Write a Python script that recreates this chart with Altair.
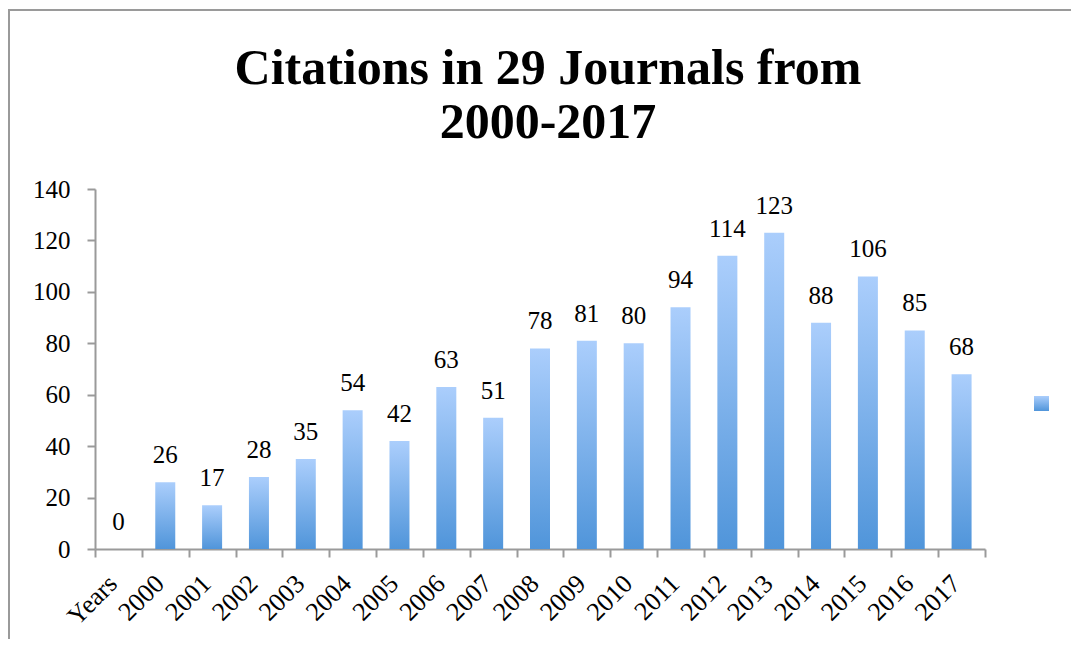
import altair as alt
import pandas as pd

categories = ["Years", "2000", "2001", "2002", "2003", "2004", "2005", "2006", "2007",
              "2008", "2009", "2010", "2011", "2012", "2013", "2014", "2015", "2016", "2017"]
values = [0, 26, 17, 28, 35, 54, 42, 63, 51, 78, 81, 80, 94, 114, 123, 88, 106, 85, 68]
y_ticks = [0, 20, 40, 60, 80, 100, 120, 140]
series_name = "Series1"

df = pd.DataFrame({"year": categories, "count": values, "series": [series_name] * len(categories)})
one_row = pd.DataFrame({"frame": ["border"]})

SERIF = "Liberation Serif"
GRAY = "#9a9a9a"

x_enc = alt.X("year:N", sort=categories,
              scale=alt.Scale(paddingInner=0, paddingOuter=0),
              axis=alt.Axis(title=None, labelAngle=-45, labelAlign="right", labelBaseline="top",
                            labelFont=SERIF, labelFontSize=26, labelColor="black",
                            labelPadding=13, labelOffset=-15, tickBand="extent", tickSize=8,
                            tickColor=GRAY, domainColor=GRAY, tickWidth=2, domainWidth=2,
                            grid=False))
y_enc = alt.Y("count:Q", scale=alt.Scale(domain=[0, 140], nice=False),
              axis=alt.Axis(title=None, values=y_ticks, labelFont=SERIF, labelFontSize=25,
                            labelColor="black", labelPadding=17, tickSize=8,
                            tickColor=GRAY, domainColor=GRAY, tickWidth=2, domainWidth=2,
                            grid=False))

grad = alt.Gradient(gradient="linear", x1=0, y1=0, x2=0, y2=1,
                    stops=[alt.GradientStop(color="#abcefc", offset=0),
                           alt.GradientStop(color="#5095da", offset=1)])

bars = alt.Chart(df).mark_bar(color=grad, width=alt.RelativeBandSize(0.427)).encode(
    x=x_enc, y=y_enc,
    opacity=alt.Opacity("series:N", scale=alt.Scale(domain=[series_name], range=[1]),
                        legend=alt.Legend(title=None, orient="none", legendX=939, legendY=207,
                                          symbolType="square", symbolSize=225,
                                          symbolFillColor="#78abe6", symbolStrokeWidth=0,
                                          labelExpr="''", padding=0)),
)

labels = alt.Chart(df).mark_text(baseline="alphabetic", dy=-19, font=SERIF, fontSize=25,
                                 color="black").encode(
    x=alt.X("year:N", sort=categories), y="count:Q", text="count:Q")

frame_top = alt.Chart(one_row).mark_rect(color=GRAY, strokeWidth=0).encode(
    x=alt.value(-87), x2=alt.value(980), y=alt.value(-180), y2=alt.value(-178))
frame_left = alt.Chart(one_row).mark_rect(color=GRAY, strokeWidth=0).encode(
    x=alt.value(-87), x2=alt.value(-85), y=alt.value(-180), y2=alt.value(450))

chart = alt.layer(frame_top, frame_left, bars, labels).properties(
    width=890, height=360,
    title=alt.Title(["Citations in 29 Journals from", "2000-2017"], font=SERIF, fontSize=50,
                    fontWeight="bold", color="black", lineHeight=54, anchor="middle",
                    frame="group", baseline="alphabetic", offset=-179, dx=8),
    autosize=alt.AutoSizeParams(type="none"),
    padding={"left": 87, "top": 181, "right": 86, "bottom": 90},
).configure_view(stroke=None)

chart.save("out.html", embed_options={"renderer": "svg", "actions": False})
